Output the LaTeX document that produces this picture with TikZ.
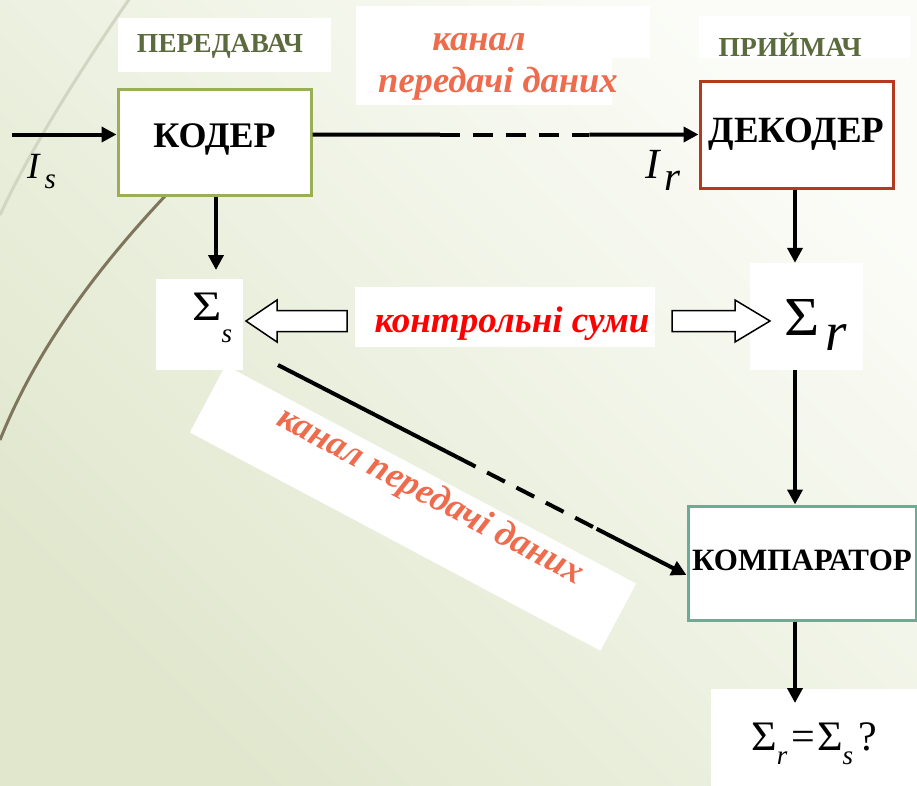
\documentclass[tikz,border=0pt]{standalone}
\usepackage{fontspec}
\setmainfont{Liberation Serif}
\usetikzlibrary{arrows.meta,calc}

\definecolor{bgll}{HTML}{E0E7CD}
\definecolor{bgur}{HTML}{FBFCF7}
\definecolor{arclight}{HTML}{D2D5C2}
\definecolor{arcdark}{HTML}{7E755C}
\definecolor{olivetext}{HTML}{5C6B3E}
\definecolor{coderline}{HTML}{9AAF55}
\definecolor{decoderline}{HTML}{B3391F}
\definecolor{compline}{HTML}{6BAD92}
\definecolor{chantext}{HTML}{EE6C4D}
\definecolor{sumtext}{HTML}{FF0000}

\newcommand{\fs}[1]{\fontsize{#1}{#1}\selectfont}
\newcommand{\bigsig}[1]{\scalebox{#1}[1]{Σ}}

\tikzset{
  pad/.style={fill=white, inner sep=0pt},
  blockbox/.style={draw, line width=3pt, fill=white, inner sep=0pt, text height=24pt},
  conn/.style={line width=4pt},
  tip/.style={-{Triangle[length=15pt,width=15pt]}},
  chanfont/.style={font=\fs{36.5}\bfseries\itshape, text=chantext},
  headfont/.style={font=\fs{27.5}\bfseries, text=olivetext},
  hollow/.style={draw, line width=1.5pt, fill=white},
  sym/.style={anchor=base west, inner sep=0pt},
}

\begin{document}
\begin{tikzpicture}[x=1pt,y=-1pt]
\useasboundingbox (0,0) rectangle (917,785);

% background
\shade[left color=bgll, right color=bgur, shading angle=135]
  (0,0) rectangle (917,785);
\draw[arclight, line width=3pt] (130,-2) .. controls (80,70) and (30,150) .. (0,215);
\draw[arcdark, line width=3pt] (0,440) .. controls (40,340) and (110,250) .. (200,160);

% white label pads
\node[pad, minimum width=213pt, minimum height=54pt] (txpad) at (224.5,45) {};
\node[headfont] (txlab) at (220,46) {ПЕРЕДАВАЧ};
\node[pad, minimum width=211pt, minimum height=42pt] (rxpad) at (804.5,37) {};
\node[headfont] (rxlab) at (790,45) {ПРИЙМАЧ};

\node[pad, minimum width=294pt, minimum height=52pt] (chpadA) at (503,32) {};
\node[pad, minimum width=256pt, minimum height=48pt] (chpadB) at (484,81) {};
\node[chanfont] (chA) at (479,42) {канал};
\node[chanfont] (chB) at (498,84) {передачі даних};

% main blocks
\node[blockbox, draw=coderline, minimum width=193pt, minimum height=106pt,
      font=\fs{36}\bfseries, text depth=14pt] (coder) at (214.5,142) {КОДЕР};
\node[blockbox, draw=decoderline, minimum width=193pt, minimum height=107pt,
      font=\fs{37}\bfseries, text depth=9pt] (decoder) at (796.5,134.5) {ДЕКОДЕР};
\node[blockbox, draw=compline, minimum width=228pt, minimum height=114pt,
      font=\fs{31}\bfseries, text height=20pt, text depth=6pt] (komp) at (802,563) {КОМПАРАТОР};

% checksum pads and their symbols
\node[pad, minimum width=87pt, minimum height=91pt] (ss) at (199.5,324.5) {};
\node[sym] (sstext) at (192,320)
  {\fs{42}\bigsig{1.2}\raisebox{-22pt}{\fs{27}\itshape s}};
\node[pad, minimum width=113pt, minimum height=107pt] (sr) at (806.5,316.5) {};
\node[sym] (srtext) at (784,335)
  {\fs{55}\bigsig{1.1}\hspace{6pt}\raisebox{-15pt}{\itshape r}};
\node[pad, minimum width=300pt, minimum height=60pt] (cs) at (505,317) {};
\node[anchor=base, inner sep=0pt, font=\fs{37}\bfseries\itshape, text=sumtext] (cstext)
  at (512,332) {контрольні суми};
\node[pad, minimum width=206pt, minimum height=97pt] (res) at (814,737) {};
\node[sym] (restext) at (751,750)
  {\fs{42}\bigsig{1.05}\raisebox{-14pt}{\fs{27}\itshape r}\hspace{4pt}=\hspace{2pt}\bigsig{1.05}\raisebox{-14pt}{\fs{27}\itshape s}\hspace{5pt}?};

% rotated channel band
\node[pad, minimum width=465pt, minimum height=76pt, rotate=-28] (band) at (413,508) {};
\node[chanfont, rotate=-28] (chC) at (430,497) {канал передачі даних};

% signal labels
\node[sym] (is) at (27,178) {\fs{37}\itshape I\hspace{5pt}\raisebox{-10pt}{\fs{29}s}};
\node[sym] (ir) at (645,178) {\fs{43}\itshape I\hspace{5pt}\raisebox{-12pt}{\fs{41}r}};

% input and data channel to decoder
\coordinate (in) at (12,134.5);
\coordinate (cout) at (coder.east |- decoder.west);
\draw[conn, tip] (in) -- (coder.west |- in);
\draw[conn] (cout) -- ($(cout)!0.33!(decoder.west)$);
\draw[conn, dash pattern=on 20pt off 13pt] ($(cout)!0.33!(decoder.west)$) -- ($(cout)!0.717!(decoder.west)$);
\draw[conn, tip] ($(cout)!0.717!(decoder.west)$) -- (decoder.west);

% vertical flows
\draw[conn, tip] (coder.south -| 216,0) -- (216,270);
\coordinate (rx) at (795,0);
\draw[conn, tip] (decoder.south -| rx) -- (sr.north -| rx);
\draw[conn, tip] (sr.south -| rx) -- (komp.north -| rx);
\draw[conn, tip] (komp.south -| rx) -- (795,703);

% checksum block arrows
\draw[hollow] (347,310.5) -- (277,310.5) -- (277,300) -- (246,321) -- (277,342) -- (277,331.5) -- (347,331.5) -- cycle;
\draw[hollow] (672,310.5) -- (735,310.5) -- (735,300) -- (770,321) -- (735,342) -- (735,331.5) -- (672,331.5) -- cycle;

% checksum channel to comparator
\coordinate (dstart) at (278,365);
\coordinate (dend) at (komp.west |- 0,575);
\draw[conn] (dstart) -- ($(dstart)!0.44!(dend)$);
\draw[conn, dash pattern=on 20pt off 13pt] ($(dstart)!0.44!(dend)$) -- ($(dstart)!0.78!(dend)$);
\draw[conn, tip] ($(dstart)!0.78!(dend)$) -- (dend);
\end{tikzpicture}
\end{document}
